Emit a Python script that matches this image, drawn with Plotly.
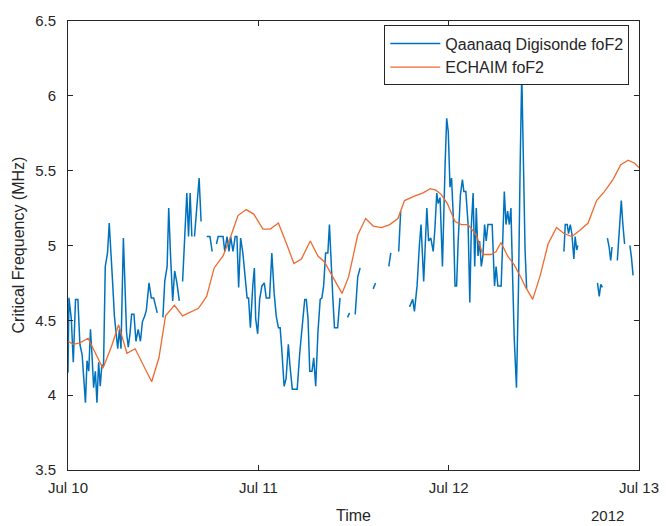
import plotly.graph_objects as go

# Qaanaaq Digisonde foF2 (MHz); None marks data gaps
dig_time = [
    "2012-07-10 00:00", "2012-07-10 00:07", "2012-07-10 00:25", "2012-07-10 00:40", "2012-07-10 00:57",
    "2012-07-10 01:15", "2012-07-10 01:30", "2012-07-10 01:47", "2012-07-10 02:12", "2012-07-10 02:24",
    "2012-07-10 02:37", "2012-07-10 02:50", "2012-07-10 03:02", "2012-07-10 03:14", "2012-07-10 03:27",
    "2012-07-10 03:39", "2012-07-10 03:52", "2012-07-10 04:04", "2012-07-10 04:16", "2012-07-10 04:29",
    "2012-07-10 04:42", "2012-07-10 04:59", "2012-07-10 05:12", "2012-07-10 05:24", "2012-07-10 05:39",
    "2012-07-10 05:51", "2012-07-10 06:04", "2012-07-10 06:16", "2012-07-10 06:29", "2012-07-10 06:41",
    "2012-07-10 06:59", "2012-07-10 07:11", "2012-07-10 07:23", "2012-07-10 07:36", "2012-07-10 07:49",
    "2012-07-10 08:01", "2012-07-10 08:19", "2012-07-10 08:34", "2012-07-10 08:51", "2012-07-10 09:08",
    "2012-07-10 09:23", "2012-07-10 09:41", "2012-07-10 09:53", "2012-07-10 10:13", "2012-07-10 10:30",
    "2012-07-10 10:48", "2012-07-10 11:03", "2012-07-10 11:15", "2012-07-10 11:35", "2012-07-10 11:58",
    "2012-07-10 12:12", "2012-07-10 12:30", "2012-07-10 12:42", "2012-07-10 12:55", "2012-07-10 13:12",
    "2012-07-10 13:27", "2012-07-10 13:44", "2012-07-10 14:02", "2012-07-10 14:15", "2012-07-10 14:27",
    "2012-07-10 14:42", "2012-07-10 14:59", "2012-07-10 15:12", "2012-07-10 15:24", "2012-07-10 15:37",
    "2012-07-10 15:47", "2012-07-10 15:57", "2012-07-10 16:14", "2012-07-10 16:32", "2012-07-10 16:47",
    "2012-07-10 17:10", "2012-07-10 17:29", "2012-07-10 17:54", "2012-07-10 18:11", "2012-07-10 18:27",
    "2012-07-10 18:43", "2012-07-10 18:56", "2012-07-10 19:33", "2012-07-10 19:46", "2012-07-10 20:03",
    "2012-07-10 20:18", "2012-07-10 20:31", "2012-07-10 20:48", "2012-07-10 21:05", "2012-07-10 21:18",
    "2012-07-10 21:31", "2012-07-10 21:46", "2012-07-10 22:03", "2012-07-10 22:20", "2012-07-10 22:35",
    "2012-07-10 22:46", "2012-07-10 23:00", "2012-07-10 23:18", "2012-07-10 23:30", "2012-07-10 23:40",
    "2012-07-10 23:55",
    "2012-07-11 00:10", "2012-07-11 00:27", "2012-07-11 00:45", "2012-07-11 01:00", "2012-07-11 01:25",
    "2012-07-11 01:42", "2012-07-11 02:00", "2012-07-11 02:15", "2012-07-11 02:32", "2012-07-11 02:45",
    "2012-07-11 02:57", "2012-07-11 03:15", "2012-07-11 03:30", "2012-07-11 03:47", "2012-07-11 03:59",
    "2012-07-11 04:17", "2012-07-11 04:37", "2012-07-11 04:54", "2012-07-11 05:14", "2012-07-11 05:34",
    "2012-07-11 05:51", "2012-07-11 06:03", "2012-07-11 06:16", "2012-07-11 06:29", "2012-07-11 06:46",
    "2012-07-11 06:59", "2012-07-11 07:14", "2012-07-11 07:31", "2012-07-11 07:48", "2012-07-11 08:01",
    "2012-07-11 08:14", "2012-07-11 08:29", "2012-07-11 08:46", "2012-07-11 08:58", "2012-07-11 09:10",
    "2012-07-11 09:23", "2012-07-11 09:36", "2012-07-11 10:00", "2012-07-11 10:18", "2012-07-11 10:45",
    "2012-07-11 11:15", "2012-07-11 11:30", "2012-07-11 11:50", "2012-07-11 12:13", "2012-07-11 12:32",
    "2012-07-11 12:50", "2012-07-11 13:30", "2012-07-11 14:29", "2012-07-11 14:47", "2012-07-11 15:30",
    "2012-07-11 16:27", "2012-07-11 16:42", "2012-07-11 17:10", "2012-07-11 17:42", "2012-07-11 17:57",
    "2012-07-11 18:30", "2012-07-11 19:04", "2012-07-11 19:16", "2012-07-11 19:28", "2012-07-11 19:41",
    "2012-07-11 20:01", "2012-07-11 20:19", "2012-07-11 20:31", "2012-07-11 20:51", "2012-07-11 21:03",
    "2012-07-11 21:15", "2012-07-11 21:28", "2012-07-11 21:45", "2012-07-11 22:03", "2012-07-11 22:15",
    "2012-07-11 22:30", "2012-07-11 22:41", "2012-07-11 22:55", "2012-07-11 23:13", "2012-07-11 23:33",
    "2012-07-11 23:45", "2012-07-11 23:57",
    "2012-07-12 00:10", "2012-07-12 00:22", "2012-07-12 00:35", "2012-07-12 00:48", "2012-07-12 01:00",
    "2012-07-12 01:12", "2012-07-12 01:29", "2012-07-12 01:44", "2012-07-12 01:55", "2012-07-12 02:10",
    "2012-07-12 02:27", "2012-07-12 02:40", "2012-07-12 02:52", "2012-07-12 03:05", "2012-07-12 03:17",
    "2012-07-12 03:29", "2012-07-12 03:42", "2012-07-12 03:54", "2012-07-12 04:07", "2012-07-12 04:19",
    "2012-07-12 04:32", "2012-07-12 04:44", "2012-07-12 04:57", "2012-07-12 05:09", "2012-07-12 05:29",
    "2012-07-12 05:47", "2012-07-12 05:59", "2012-07-12 06:12", "2012-07-12 06:37", "2012-07-12 06:49",
    "2012-07-12 07:01", "2012-07-12 07:14", "2012-07-12 07:26", "2012-07-12 07:39", "2012-07-12 07:51",
    "2012-07-12 08:03", "2012-07-12 08:16", "2012-07-12 08:33", "2012-07-12 08:48", "2012-07-12 09:01",
    "2012-07-12 09:13", "2012-07-12 09:26", "2012-07-12 09:38", "2012-07-12 09:50", "2012-07-12 12:00",
    "2012-07-12 14:32", "2012-07-12 14:42", "2012-07-12 14:57", "2012-07-12 15:07", "2012-07-12 15:20",
    "2012-07-12 15:32", "2012-07-12 15:47", "2012-07-12 15:57", "2012-07-12 16:09", "2012-07-12 16:17",
    "2012-07-12 17:30", "2012-07-12 18:46", "2012-07-12 18:59", "2012-07-12 19:11", "2012-07-12 19:23",
    "2012-07-12 19:40", "2012-07-12 20:01", "2012-07-12 20:14", "2012-07-12 20:26", "2012-07-12 20:36",
    "2012-07-12 20:55", "2012-07-12 21:16", "2012-07-12 21:28", "2012-07-12 21:46", "2012-07-12 21:58",
    "2012-07-12 22:11", "2012-07-12 22:30", "2012-07-12 22:51", "2012-07-12 23:03", "2012-07-12 23:15",
]
dig_fof2 = [
    4.15, 4.65, 4.51, 4.22, 4.64,
    4.64, 4.34, 4.27, 3.95, 4.23,
    4.16, 4.44, 4.26, 4.05, 4.16,
    3.95, 4.22, 4.06, 4.20, 4.20,
    4.86, 4.95, 5.15, 4.99, 4.73,
    4.53, 4.42, 4.31, 4.44, 4.31,
    5.05, 4.73, 4.42, 4.32, 4.41,
    4.54, 4.54, 4.36, 4.44, 4.36,
    4.49, 4.53, 4.57, 4.75, 4.65,
    4.65, 4.60, 4.55, None, 4.52,
    4.76, 4.86, 5.25, 4.95, 4.63,
    4.83, 4.75, 4.63, None, 4.76,
    5.08, 5.35, 5.06, 5.35, 5.06,
    None, 5.06, 5.28, 5.45, 5.16,
    None, 5.06, 5.06, 4.96, None,
    5.01, 5.06, 5.06, 4.96, 5.06,
    4.96, 5.06, 4.96, 5.06, 5.06,
    4.72, 5.05, 4.95, 4.79, 4.65,
    4.65, 4.45, 4.73, 4.85, 4.51,
    4.41,
    4.64, 4.73, 4.75, 4.65, 4.65,
    4.95, 4.68, 4.53, 4.45, 4.45,
    4.31, 4.06, 4.11, 4.34, 4.20,
    4.04, 4.04, 4.04, 4.29, 4.47,
    4.64, 4.64, 4.51, 4.16, 4.16,
    4.25, 4.06, 4.42, 4.64, 4.65,
    4.73, 4.95, 4.95, 5.14, 4.88,
    4.66, 4.45, 4.45, 4.65, None,
    4.52, 4.55, None, 4.54, 4.79,
    4.85, None, 4.71, 4.75, None,
    4.86, 4.95, None, 4.96, 5.23,
    None, 4.59, 4.62, 4.64, 4.56,
    4.73, 5.01, 5.14, 4.76, 5.01,
    5.25, 5.03, 5.05, 4.96, 5.10,
    5.35, 5.28, 5.32, 4.86, 5.54,
    5.85, 5.76,
    5.39, 5.45, 5.19, 4.73, 4.73,
    5.03, 5.34, 5.44, 5.36, 5.36,
    5.14, 4.62, 5.14, 5.35, 4.86,
    5.25, 4.93, 5.03, 4.86, 4.93,
    5.14, 5.03, 5.14, 5.14, 5.14,
    4.73, 4.86, 4.73, 4.73, 5.03,
    5.36, 5.14, 5.23, 5.14, 5.25,
    4.82, 4.38, 4.05, 4.71, 5.54,
    6.15, 5.54, 4.97, 4.71, None,
    4.96, 5.14, 5.14, 5.08, 5.14,
    5.08, 4.91, 5.06, 4.97, 5.00,
    None, 4.75, 4.66, 4.74, 4.72,
    None, 5.05, 4.99, 4.90, 4.99,
    None, 4.90, 5.08, 5.30, 5.14,
    5.01, None, 5.00, 4.92, 4.80,
]

# ECHAIM foF2 (MHz)
ech_time = [
    "2012-07-10 00:00", "2012-07-10 00:40", "2012-07-10 01:30", "2012-07-10 02:32", "2012-07-10 03:22",
    "2012-07-10 04:24", "2012-07-10 05:27", "2012-07-10 06:23", "2012-07-10 07:26", "2012-07-10 08:28",
    "2012-07-10 10:33", "2012-07-10 11:28", "2012-07-10 12:18", "2012-07-10 13:25", "2012-07-10 14:27",
    "2012-07-10 16:27", "2012-07-10 17:29", "2012-07-10 18:26", "2012-07-10 19:33", "2012-07-10 20:35",
    "2012-07-10 21:26", "2012-07-10 22:28", "2012-07-10 23:25", "2012-07-11 00:02", "2012-07-11 00:35",
    "2012-07-11 01:30", "2012-07-11 02:32", "2012-07-11 03:34", "2012-07-11 04:29", "2012-07-11 05:26",
    "2012-07-11 06:33", "2012-07-11 07:31", "2012-07-11 08:21", "2012-07-11 09:23", "2012-07-11 10:33",
    "2012-07-11 11:23", "2012-07-11 12:32", "2012-07-11 13:32", "2012-07-11 14:29", "2012-07-11 15:32",
    "2012-07-11 16:34", "2012-07-11 17:36", "2012-07-11 18:26", "2012-07-11 19:41", "2012-07-11 20:43",
    "2012-07-11 21:41", "2012-07-11 22:23", "2012-07-11 23:05", "2012-07-11 23:50", "2012-07-12 00:48",
    "2012-07-12 01:37", "2012-07-12 02:27", "2012-07-12 03:29", "2012-07-12 04:19", "2012-07-12 05:21",
    "2012-07-12 05:59", "2012-07-12 06:36", "2012-07-12 07:26", "2012-07-12 08:16", "2012-07-12 09:05",
    "2012-07-12 09:43", "2012-07-12 10:36", "2012-07-12 11:33", "2012-07-12 12:32", "2012-07-12 13:36",
    "2012-07-12 14:32", "2012-07-12 15:32", "2012-07-12 16:31", "2012-07-12 17:35", "2012-07-12 18:39",
    "2012-07-12 19:38", "2012-07-12 20:43", "2012-07-12 21:42", "2012-07-12 22:38", "2012-07-12 23:27",
    "2012-07-13 00:00",
]
ech_fof2 = [
    4.36, 4.34, 4.35, 4.38, 4.29,
    4.18, 4.32, 4.47, 4.28, 4.31,
    4.09, 4.25, 4.53, 4.60, 4.53,
    4.58, 4.66, 4.85, 4.93, 5.07,
    5.20, 5.24, 5.21, 5.16, 5.11,
    5.11, 5.15, 5.01, 4.88, 4.91,
    5.03, 4.93, 4.89, 4.79, 4.68,
    4.79, 5.07, 5.18, 5.13, 5.12,
    5.14, 5.18, 5.30, 5.33, 5.35,
    5.38, 5.37, 5.34, 5.28, 5.16,
    5.14, 5.14, 5.07, 4.94, 4.94,
    4.96, 5.02, 4.93, 4.87, 4.79,
    4.72, 4.64, 4.80, 5.01, 5.12,
    5.08, 5.06, 5.10, 5.15, 5.30,
    5.36, 5.44, 5.54, 5.57, 5.55,
    5.52,
]

x_ticks = ["2012-07-10", "2012-07-11", "2012-07-12", "2012-07-13"]
x_tick_labels = ["Jul 10", "Jul 11", "Jul 12", "Jul 13"]
y_ticks = [3.5, 4, 4.5, 5, 5.5, 6, 6.5]
y_tick_labels = ["3.5", "4", "4.5", "5", "5.5", "6", "6.5"]

FONT = "Liberation Sans, Arial, sans-serif"
AX = "#262626"

fig = go.Figure()
fig.add_trace(go.Scatter(
    x=dig_time, y=dig_fof2, mode="lines", name="Qaanaaq Digisonde foF2",
    line=dict(color="#0072BD", width=1.5), connectgaps=False,
))
fig.add_trace(go.Scatter(
    x=ech_time, y=ech_fof2, mode="lines", name="ECHAIM foF2",
    line=dict(color="#EE6A2E", width=1.3),
))

fig.update_layout(
    width=671, height=526,
    margin=dict(l=68, r=25, t=14, b=56),
    paper_bgcolor="white", plot_bgcolor="white",
    font=dict(family=FONT, size=15, color=AX),
    showlegend=True,
    legend=dict(
        x=0.983, y=0.99, xanchor="right", yanchor="top",
        bgcolor="white", bordercolor="#262626", borderwidth=1,
        font=dict(family=FONT, size=16, color="#262626"),
        itemwidth=50, tracegroupgap=0,
    ),
    xaxis=dict(
        type="date", range=["2012-07-10", "2012-07-13"],
        tickvals=x_ticks, ticktext=x_tick_labels,
        ticks="inside", ticklen=5, tickcolor=AX, tickwidth=1,
        showline=True, linecolor=AX, linewidth=1, mirror="ticks",
        showgrid=False, zeroline=False,
        tickfont=dict(family=FONT, size=15, color=AX),
        ticklabelstandoff=4,
    ),
    yaxis=dict(
        range=[3.5, 6.5], tickvals=y_ticks, ticktext=y_tick_labels,
        ticks="inside", ticklen=5, tickcolor=AX, tickwidth=1,
        showline=True, linecolor=AX, linewidth=1, mirror="ticks",
        showgrid=False, zeroline=False,
        tickfont=dict(family=FONT, size=15, color=AX),
        ticklabelstandoff=8,
    ),
    annotations=[
        dict(text="Time", xref="paper", yref="paper", x=0.5, y=0, yshift=-45,
             showarrow=False, font=dict(family=FONT, size=16, color=AX),
             xanchor="center", yanchor="middle"),
        dict(text="2012", xref="paper", yref="paper", x=0.945, y=0, yshift=-45,
             showarrow=False, font=dict(family=FONT, size=15, color=AX),
             xanchor="center", yanchor="middle"),
        dict(text="Critical Frequency (MHz)", xref="paper", yref="paper", x=0, xshift=-50,
             y=0.5, textangle=-90, showarrow=False,
             font=dict(family=FONT, size=16, color=AX),
             xanchor="center", yanchor="middle"),
    ],
)

fig.write_html("out.html")
